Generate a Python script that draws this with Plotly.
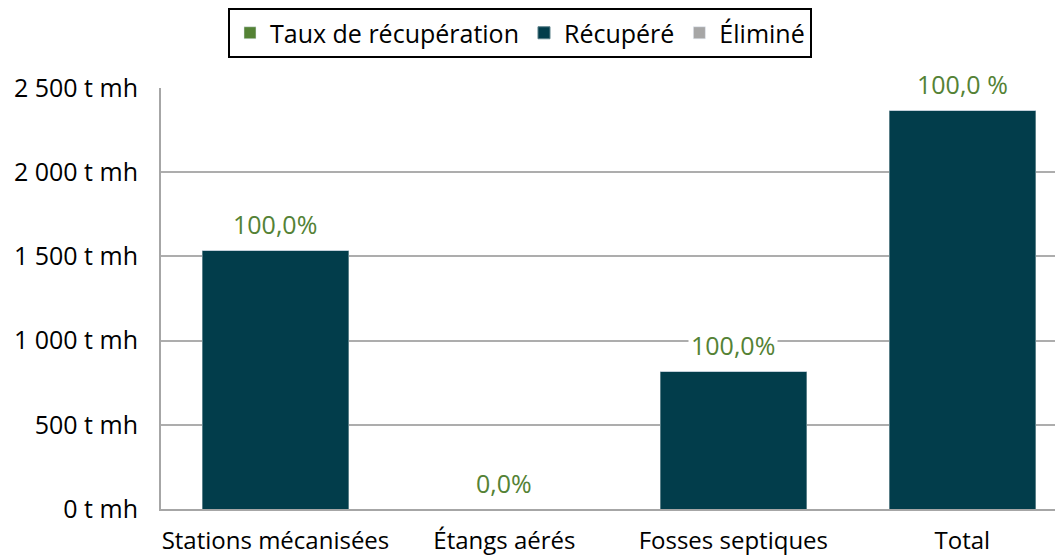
import plotly.graph_objects as go

categories = ["Stations mécanisées", "Étangs aérés", "Fosses septiques", "Total"]
recupere = [1538, 0, 819, 2369]
elimine = [0, 0, 0, 0]
taux = [1.0, 0.0, 1.0, 1.0]
taux_labels = ["100,0%", "0,0%", "100,0%", "100,0 %"]
ytick_vals = [0, 500, 1000, 1500, 2000, 2500]
ytick_text = [f"{v:,} t mh".replace(",", " ") for v in ytick_vals]

GREEN = "#548235"
TEAL = "#023D4B"
GREY = "#A6A6A6"
FONT = "Open Sans"

fig = go.Figure()
fig.add_bar(x=categories, y=taux, name="Taux de récupération",
            marker_color=GREEN, yaxis="y2")
fig.add_bar(x=categories, y=recupere, name="Récupéré",
            marker_color=TEAL, marker_line=dict(color="#5a7f88", width=1), width=0.64)
fig.add_bar(x=categories, y=elimine, name="Éliminé",
            marker_color=GREY, width=0.64)

for cat, val, lab in zip(categories, recupere, taux_labels):
    fig.add_annotation(x=cat, y=val, text=lab, showarrow=False,
                       yanchor="middle", yshift=26, bgcolor="white",
                       borderpad=2,
                       font=dict(family=FONT, size=25, color=GREEN))

# page body adds an 8px offset, so the figure is sized 8px smaller
fig.update_layout(
    width=1055, height=548,
    margin=dict(l=153, r=0, t=80, b=47),
    paper_bgcolor="white", plot_bgcolor="white",
    barmode="stack",
    font=dict(family=FONT, size=24, color="black"),
    showlegend=True,
    legend=dict(orientation="h", x=0.398, xanchor="center",
                yref="container", y=1.0, yanchor="top",
                bordercolor="black", borderwidth=2,
                font=dict(family=FONT, size=25, color="black"),
                traceorder="normal"),
    xaxis=dict(range=[-0.5, 3.44], showline=True, linecolor="#A6A6A6",
               linewidth=2, ticks="", tickfont=dict(size=24),
               ticklabelstandoff=9, automargin=False),
    yaxis=dict(range=[0, 2500], tickmode="array", tickvals=ytick_vals,
               ticktext=ytick_text, showgrid=True, gridcolor="#ADADAD",
               gridwidth=2, showline=True, linecolor="#A6A6A6", linewidth=2,
               zeroline=False, ticklabelstandoff=16, tickfont=dict(size=25),
               automargin=False),
    yaxis2=dict(overlaying="y", range=[5, 6], visible=False),
)

fig.write_html("out.html")
